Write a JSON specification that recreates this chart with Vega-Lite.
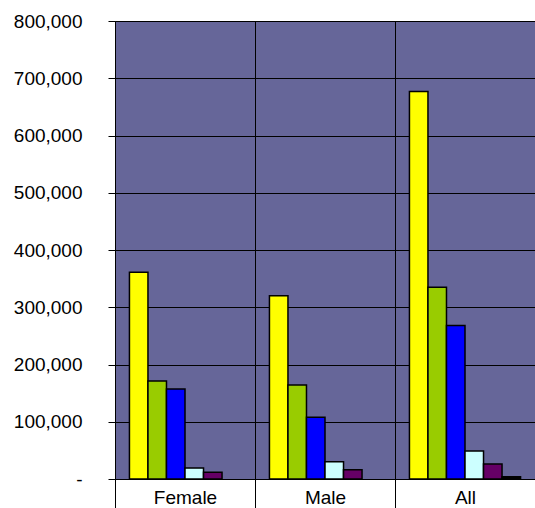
{
  "$schema": "https://vega.github.io/schema/vega-lite/v6.json",
  "width": 420,
  "height": 458,
  "autosize": {"type": "none"},
  "padding": {"left": 115, "top": 21, "right": 0, "bottom": 29},
  "background": "white",
  "config": {
    "view": {"fill": "#666699", "stroke": null},
    "font": "Liberation Sans"
  },
  "data": {
    "values": [
      {"group": "Female", "series": "S1", "value": 361000},
      {"group": "Female", "series": "S2", "value": 171000},
      {"group": "Female", "series": "S3", "value": 157000},
      {"group": "Female", "series": "S4", "value": 19000},
      {"group": "Female", "series": "S5", "value": 12000},
      {"group": "Male", "series": "S1", "value": 320000},
      {"group": "Male", "series": "S2", "value": 164000},
      {"group": "Male", "series": "S3", "value": 108000},
      {"group": "Male", "series": "S4", "value": 30000},
      {"group": "Male", "series": "S5", "value": 16000},
      {"group": "All", "series": "S1", "value": 677000},
      {"group": "All", "series": "S2", "value": 335000},
      {"group": "All", "series": "S3", "value": 268000},
      {"group": "All", "series": "S4", "value": 49000},
      {"group": "All", "series": "S5", "value": 26000},
      {"group": "All", "series": "S6", "value": 4000}
    ]
  },
  "mark": {"type": "bar", "stroke": "black", "strokeWidth": 1.5},
  "encoding": {
    "x": {
      "field": "group",
      "type": "nominal",
      "sort": ["Female", "Male", "All"],
      "scale": {"paddingInner": 0, "paddingOuter": 0},
      "axis": {
        "title": null,
        "labelAngle": 0,
        "labelFontSize": 19,
        "labelColor": "black",
        "tickBand": "extent",
        "tickSize": 29,
        "tickColor": "black",
        "tickWidth": 1,
        "labelPadding": -20,
        "domainColor": "black",
        "grid": true,
        "gridColor": "black",
        "gridWidth": 1,
        "gridOpacity": 1
      }
    },
    "xOffset": {
      "field": "series",
      "type": "nominal",
      "sort": ["S1", "S2", "S3", "S4", "S5", "S6"],
      "scale": {"domain": ["S1", "S2", "S3", "S4", "S5", "S6"], "paddingInner": 0, "paddingOuter": 0.78}
    },
    "y": {
      "field": "value",
      "type": "quantitative",
      "scale": {"domain": [0, 800000], "nice": false},
      "axis": {
        "title": null,
        "values": [0, 100000, 200000, 300000, 400000, 500000, 600000, 700000, 800000],
        "labelExpr": "datum.value == 0 ? '-\u00a0\u00a0\u00a0' : format(datum.value, ',')",
        "labelFontSize": 19,
        "labelColor": "black",
        "labelPadding": 26,
        "tickSize": 7,
        "tickColor": "black",
        "domainColor": "black",
        "gridColor": "black",
        "gridOpacity": 1,
        "gridWidth": 1
      }
    },
    "fill": {
      "field": "series",
      "type": "nominal",
      "scale": {
        "domain": ["S1", "S2", "S3", "S4", "S5", "S6"],
        "range": ["#FFFF00", "#99CC00", "#0000FF", "#CCFFFF", "#660066", "#000000"]
      },
      "legend": null
    }
  }
}
